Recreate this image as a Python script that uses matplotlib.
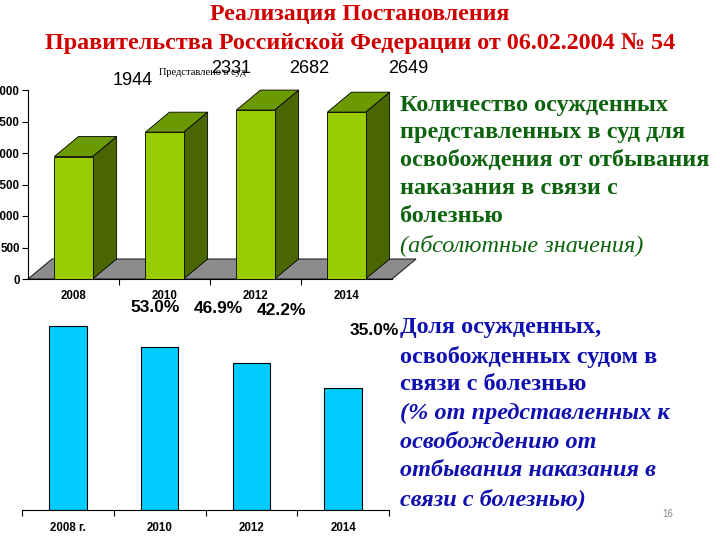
import matplotlib
matplotlib.use("Agg")
import matplotlib.pyplot as plt
from matplotlib.patches import Polygon

years_top = ["2008", "2010", "2012", "2014"]
submitted = [1944, 2331, 2682, 2649]
years_bottom = ["2008 г.", "2010", "2012", "2014"]
released_pct = [53.0, 46.9, 42.2, 35.0]

W, H = 720, 540
fig = plt.figure(figsize=(7.2, 5.4), dpi=100)


def fx(px):
    return px / W


def fy(py):
    return 1 - py / H


serif = "Liberation Serif"
sans = "Liberation Sans"

# title
red = "#d00000"
fig.text(fx(360), fy(15), "Реализация Постановления", ha="center", va="center",
         family=serif, weight="bold", size=17.2, color=red)
fig.text(fx(360), fy(44), "Правительства Российской Федерации от 06.02.2004 № 54",
         ha="center", va="center", family=serif, weight="bold", size=17.4, color=red)

# --- upper chart: pseudo 3D bars ---
ax1 = fig.add_axes([fx(28), fy(279), 364 / W, 189 / H])
xs = list(range(len(submitted)))
bw = 0.42
ddx, ddy = 0.264, 317  # depth offset in data units

ax1.add_patch(Polygon([(-0.5, 0), (3.5, 0), (3.5 + ddx, ddy), (-0.5 + ddx, ddy)],
                      closed=True, fc="#8c8c8c", ec="#222222", lw=0.8,
                      clip_on=False, zorder=1))
for xi, v in zip(xs, submitted):
    r = xi + bw / 2
    l = xi - bw / 2
    ax1.add_patch(Polygon([(r, 0), (r + ddx, ddy), (r + ddx, v + ddy), (r, v)],
                          fc="#4a6600", ec="black", lw=0.6, clip_on=False, zorder=2))
    ax1.add_patch(Polygon([(l, v), (r, v), (r + ddx, v + ddy), (l + ddx, v + ddy)],
                          fc="#6b9900", ec="black", lw=0.6, clip_on=False, zorder=2))
ax1.bar(xs, submitted, width=bw, color="#99cc00", edgecolor="black", lw=0.6,
        zorder=3, clip_on=False)

top_offsets = [(59, 76), (67, 64), (54, 42), (62, 44)]
for xi, v, off in zip(xs, submitted, top_offsets):
    ax1.annotate(str(v), (xi, v), xytext=off, textcoords="offset pixels",
                 ha="center", va="center", family=sans, size=13, annotation_clip=False)

ax1.text(1.42, 3270, "Представлено в суд", ha="center", va="center",
         family=serif, size=7.5)

ax1.set_xlim(-0.5, 3.5)
ax1.set_ylim(0, 3000)
ax1.set_yticks(range(0, 3001, 500))
ax1.set_xticks(xs)
ax1.set_xticklabels(years_top)
ax1.set_xticks([0.5, 1.5, 2.5], minor=True)
ax1.tick_params(axis="x", which="major", length=0, pad=8)
ax1.tick_params(axis="x", which="minor", length=4, width=0.8)
ax1.tick_params(axis="y", length=4, width=0.8, pad=2)
for lab in ax1.get_xticklabels() + ax1.get_yticklabels():
    lab.set_fontfamily(sans)
    lab.set_fontweight("bold")
    lab.set_fontsize(8.3)
ax1.spines["top"].set_visible(False)
ax1.spines["right"].set_visible(False)
ax1.patch.set_visible(False)

# --- lower chart ---
ax2 = fig.add_axes([fx(22), fy(510), 367 / W, 191 / H])
ax2.bar(xs, released_pct, width=0.41, color="#00ccff", edgecolor="black", lw=0.8)
pct_offsets = [(87, 18), (59, 39), (30, 53), (31, 58)]
for xi, v, off in zip(xs, released_pct, pct_offsets):
    ax2.annotate(f"{v:.1f}%", (xi, v), xytext=off, textcoords="offset pixels",
                 ha="center", va="center", family=sans, size=12.5, weight="bold",
                 annotation_clip=False)
ax2.set_xlim(-0.5, 3.5)
ax2.set_ylim(0, 55)
ax2.set_yticks([])
ax2.set_xticks(xs)
ax2.set_xticklabels(years_bottom)
ax2.set_xticks([-0.5, 0.5, 1.5, 2.5, 3.5], minor=True)
ax2.tick_params(axis="x", which="major", length=0, pad=8.5)
ax2.tick_params(axis="x", which="minor", length=4, width=0.8)
for lab in ax2.get_xticklabels():
    lab.set_fontfamily(sans)
    lab.set_fontweight("bold")
    lab.set_fontsize(8.3)
for s in ["top", "right", "left"]:
    ax2.spines[s].set_visible(False)
ax2.patch.set_visible(False)

# --- captions on the right ---
green = "#0e640e"
green_lines = ["Количество осужденных", "представленных в суд для",
               "освобождения от отбывания", "наказания в связи с", "болезнью"]
for i, line in enumerate(green_lines):
    fig.text(fx(400), fy(105 + 28 * i), line, ha="left", va="center",
             family=serif, weight="bold", size=17.5, color=green)
fig.text(fx(400), fy(245), "(абсолютные значения)", ha="left", va="center",
         family=serif, style="italic", size=17.5, color=green)

blue = "#1010b0"
blue_lines = ["Доля осужденных,", "освобожденных судом в", "связи с болезнью"]
blue_italic = ["(% от представленных к", "освобождению от",
               "отбывания наказания в", "связи с болезнью)"]
for i, line in enumerate(blue_lines + blue_italic):
    fig.text(fx(400), fy(328 + 28.5 * i), line, ha="left", va="center",
             family=serif, weight="bold", size=17.5, color=blue,
             style="italic" if i >= len(blue_lines) else "normal")

fig.text(fx(668), fy(514), "16", ha="center", va="center", family=sans,
         size=7, color="#888888")

fig.savefig("out.png", dpi=100)
